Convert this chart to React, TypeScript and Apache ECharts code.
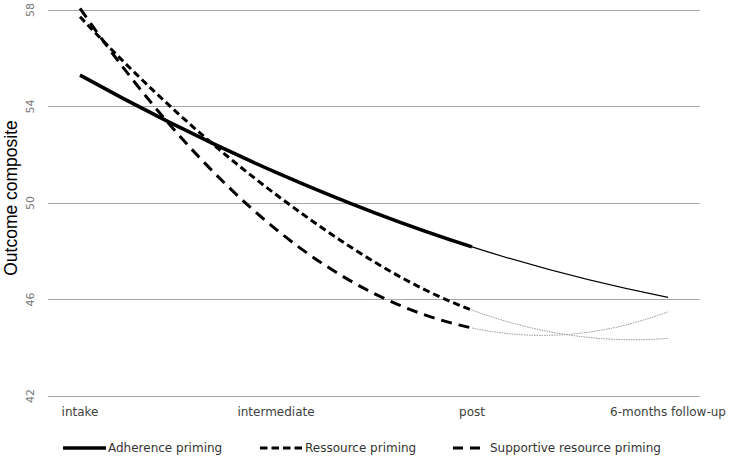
import React, { useEffect, useRef } from "react";
import * as echarts from "echarts";

const categories = ["intake", "intermediate", "post", "6-months follow-up"];
const adherence = [55.3, 51.27, 48.18, 46.09];
const ressource = [57.72, 50.35, 45.56, 44.39];
const supportive = [58.07, 48.91, 44.82, 45.49];
const seriesNames = ["Adherence priming", "Ressource priming", "Supportive resource priming"];
const yMin = 42;
const yMax = 58;
const yStep = 4;

type Sty = { lineWidth: number; stroke: string; lineDash?: number[] | null };

function makeRender(values: number[], thick: Sty, thin: Sty) {
  return (params: any, api: any) => {
    const i = params.dataIndex;
    const pts: number[][] = values.map((v, k) => api.coord([k, v]));
    const n = pts.length;
    const first = [0, 1].map((d) => 3 * pts[0][d] - 3 * pts[1][d] + pts[2][d]);
    const last = [0, 1].map((d) => 3 * pts[n - 1][d] - 3 * pts[n - 2][d] + pts[n - 3][d]);
    const ext = [first, ...pts, last];
    const seg = (k: number) => {
      const p0 = ext[k], p1 = ext[k + 1], p2 = ext[k + 2], p3 = ext[k + 3];
      const c1 = [p1[0] + (p2[0] - p0[0]) / 6, p1[1] + (p2[1] - p0[1]) / 6];
      const c2 = [p2[0] - (p3[0] - p1[0]) / 6, p2[1] - (p3[1] - p1[1]) / 6];
      return ` C ${c1[0]} ${c1[1]} ${c2[0]} ${c2[1]} ${p2[0]} ${p2[1]}`;
    };
    let pathData = "";
    let st: Sty;
    if (i === 0) {
      pathData = `M ${pts[0][0]} ${pts[0][1]}` + seg(0) + seg(1);
      st = thick;
    } else if (i === 2) {
      pathData = `M ${pts[2][0]} ${pts[2][1]}` + seg(2);
      st = thin;
    } else {
      return { type: "group", children: [] };
    }
    return {
      type: "path",
      shape: { pathData },
      style: {
        fill: "none",
        stroke: st.stroke,
        lineWidth: st.lineWidth,
        lineDash: st.lineDash || null,
        lineCap: "butt",
      },
    };
  };
}

const lineDefs: { values: number[]; thick: Sty; thin: Sty }[] = [
  { values: supportive, thick: { lineWidth: 3, stroke: "#000", lineDash: [11, 7] }, thin: { lineWidth: 1, stroke: "#9a9a9a", lineDash: [1.5, 1] } },
  { values: ressource, thick: { lineWidth: 3, stroke: "#000", lineDash: [7, 4] }, thin: { lineWidth: 1, stroke: "#9a9a9a", lineDash: [1.5, 1] } },
  { values: adherence, thick: { lineWidth: 3.5, stroke: "#000", lineDash: null }, thin: { lineWidth: 1.2, stroke: "#000", lineDash: null } },
];

const legendLayout = [
  { x1: 63, x2: 106, tx: 108, dash: null as number[] | null, w: 3.5 },
  { x1: 260, x2: 303, tx: 305, dash: [7.5, 4], w: 3 },
  { x1: 453, x2: 480, tx: 490, dash: [10, 7], w: 3 },
];

export default function App() {
  const ref = useRef<HTMLDivElement>(null);
  useEffect(() => {
    if (!ref.current) return;
    const chart = echarts.init(ref.current, null, { renderer: "svg" });
    const legendY = 448;
    const graphics: any[] = [
      {
        type: "text",
        x: 11,
        y: 198,
        rotation: Math.PI / 2,
        style: {
          text: "Outcome composite",
          fontSize: 17.5,
          fontFamily: "Liberation Sans",
          fill: "#000",
          align: "center",
          verticalAlign: "middle",
        },
      },
    ];
    seriesNames.forEach((name, k) => {
      const L = legendLayout[k];
      graphics.push({
        type: "line",
        shape: { x1: L.x1, y1: legendY, x2: L.x2, y2: legendY },
        style: { stroke: "#000", lineWidth: L.w, lineDash: L.dash },
      });
      graphics.push({
        type: "text",
        x: L.tx,
        y: legendY,
        style: {
          text: name,
          fontSize: 12,
          fontFamily: "DejaVu Sans",
          fill: "#333",
          align: "left",
          verticalAlign: "middle",
        },
      });
    });
    chart.setOption({
      animation: false,
      backgroundColor: "#fff",
      grid: [
        { left: 48, right: 31, top: 10, bottom: 60 },
        { left: 80, right: 63, top: 10, bottom: 60 },
      ],
      xAxis: [
        { gridIndex: 0, type: "value", show: false, min: 0, max: 1 },
        {
          gridIndex: 1,
          type: "category",
          data: categories,
          boundaryGap: false,
          axisLine: { show: false },
          axisTick: { show: false },
          splitLine: { show: false },
          axisLabel: { color: "#404040", fontSize: 12, fontFamily: "DejaVu Sans", margin: 10, interval: 0 },
        },
      ],
      yAxis: [
        {
          gridIndex: 0,
          type: "value",
          min: yMin,
          max: yMax,
          interval: yStep,
          axisLine: { show: false },
          axisTick: { show: false },
          splitLine: { show: true, lineStyle: { color: "#a6a6a6", width: 1 } },
          axisLabel: { rotate: 90, color: "#777", fontSize: 11, fontFamily: "DejaVu Sans", margin: 12 },
        },
        { gridIndex: 1, type: "value", min: yMin, max: yMax, show: false, splitLine: { show: false } },
      ],
      graphic: graphics,
      series: lineDefs.map((d, k) => ({
        type: "custom",
        name: seriesNames[2 - k],
        xAxisIndex: 1,
        yAxisIndex: 1,
        clip: false,
        data: d.values.map((v, i) => [i, v]),
        renderItem: makeRender(d.values, d.thick, d.thin),
        z: 3 + k,
      })),
    });
    return () => chart.dispose();
  }, []);
  return <div ref={ref} style={{ width: 731, height: 456, position: "absolute", left: 0, top: 0 }} />;
}
